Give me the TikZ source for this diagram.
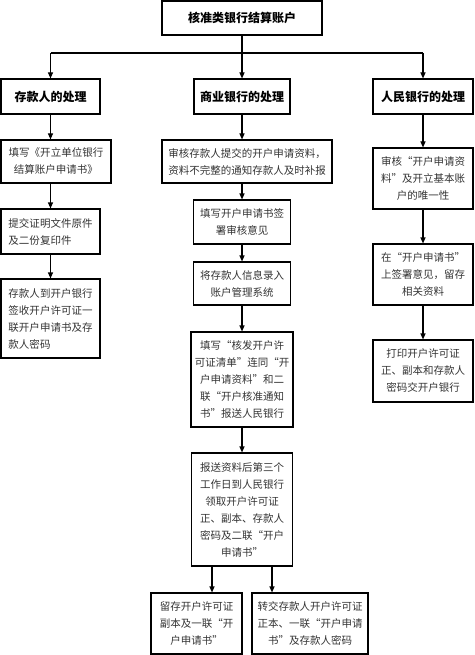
\documentclass[tikz,border=0pt]{standalone}
\usepackage{fontspec}
\newfontfamily\cjk{Noto Sans CJK SC}
\usetikzlibrary{%
	arrows.meta,%
	positioning,%
}
\tikzset{
	>={Triangle[length=6pt,width=5pt]},%
	nodes={align=center},%
	headbox/.style={%
			draw,%
			rectangle,%
			line width=1.1pt,%
			inner sep=2pt,%
			minimum height=35pt,%
			font=\cjk\bfseries\fontsize{12}{14}\selectfont},%
	stepbox/.style={%
			draw,%
			rectangle,%
			line width=1.1pt,%
			inner sep=2pt,%
			text=black!80,%
			font=\cjk\fontsize{10.5}{17}\selectfont},%
	flow/.style={%
			->,%
			line width=1.1pt},%
}

\begin{document}
\begin{tikzpicture}[x=1pt, y=1pt]%
	\useasboundingbox (0,0) rectangle (474,-655);

	\node[headbox, minimum width=160pt, minimum height=34pt] (root) at (242,-18) {核准类银行结算账户};

	\node[headbox, minimum width=99pt] (dep) at (50.5,-96.5) {存款人的处理};
	\node[headbox, minimum width=96pt] (com) at (242,-96.5) {商业银行的处理};
	\node[headbox, minimum width=100pt] (pbc) at (423,-96.5) {人民银行的处理};

	% 存款人
	\node[stepbox, minimum width=110pt, minimum height=43pt] (dep1) at (56,-161.5) {填写《开立单位银行\\结算账户申请书》};
	\node[stepbox, minimum width=99pt, minimum height=45pt, align=left] (dep2) at (50.5,-231.5) {提交证明文件原件\\及二份复印件};
	\node[stepbox, minimum width=99pt, minimum height=79pt, align=left] (dep3) at (50.5,-318.5) {存款人到开户银行\\签收开户许可证一\\联开户申请书及存\\款人密码};

	% 商业银行
	\node[stepbox, minimum width=170pt, minimum height=43pt] (com1) at (247,-161.5) {审核存款人提交的开户申请资料，\\资料不完整的通知存款人及时补报};
	\node[stepbox, minimum width=97pt, minimum height=44pt] (com2) at (242,-222) {填写开户申请书签\\署审核意见};
	\node[stepbox, minimum width=97pt, minimum height=43pt] (com3) at (242,-283.5) {将存款人信息录入\\账户管理系统};
	\node[stepbox, minimum width=102pt, minimum height=95pt] (com4) at (242,-379.5) {填写“核发开户许\\可证清单”连同“开\\户申请资料”和二\\联“开户核准通知\\书”报送人民银行};
	\node[stepbox, minimum width=101pt, minimum height=113pt] (com5) at (242,-509.5) {报送资料后第三个\\工作日到人民银行\\领取开户许可证\\正、副本、存款人\\密码及二联“开户\\申请书”};
	\node[stepbox, minimum width=91pt, minimum height=61pt] (keep) at (196.5,-623.5) {留存开户许可证\\副本及一联“开\\户申请书”};
	\node[stepbox, minimum width=116pt, minimum height=61pt] (pass) at (310,-623.5) {转交存款人开户许可证\\正本、一联“开户申请\\书”及存款人密码};

	% 人民银行
	\node[stepbox, minimum width=100pt, minimum height=61pt] (pbc1) at (423,-178.5) {审核“开户申请资\\料”及开立基本账\\户的唯一性};
	\node[stepbox, minimum width=100pt, minimum height=61pt] (pbc2) at (423,-274.5) {在“开户申请书”\\上签署意见，留存\\相关资料};
	\node[stepbox, minimum width=100pt, minimum height=62pt] (pbc3) at (423,-371) {打印开户许可证\\正、副本和存款人\\密码交开户银行};

	\coordinate (busl) at (50.5,-53);
	\coordinate (busr) at (423,-53);

	\draw[line width=1.1pt] (busl) -- (busr);
	\draw[flow] (root) -- (com);
	\draw[flow] (busl) -- (dep);
	\draw[flow] (busr) -- (pbc);

	\draw[flow] (dep.south) -- (dep.south |- dep1.north);
	\draw[flow] (dep1.south -| dep) -- (dep2);
	\draw[flow] (dep2) -- (dep3);

	\draw[flow] (com.south) -- (com.south |- com1.north);
	\draw[flow] (com1.south -| com) -- (com2);
	\draw[flow] (com2) -- (com3);
	\draw[flow] (com3) -- (com4);
	\draw[flow] (com4) -- (com5);
	\draw[flow] ([xshift=-30pt]com5.south) -- ([xshift=-30pt]com5.south |- keep.north);
	\draw[flow] ([xshift=30pt]com5.south) -- ([xshift=30pt]com5.south |- pass.north);

	\draw[flow] (pbc) -- (pbc1);
	\draw[flow] (pbc1) -- (pbc2);
	\draw[flow] (pbc2) -- (pbc3);
\end{tikzpicture}
\end{document}
